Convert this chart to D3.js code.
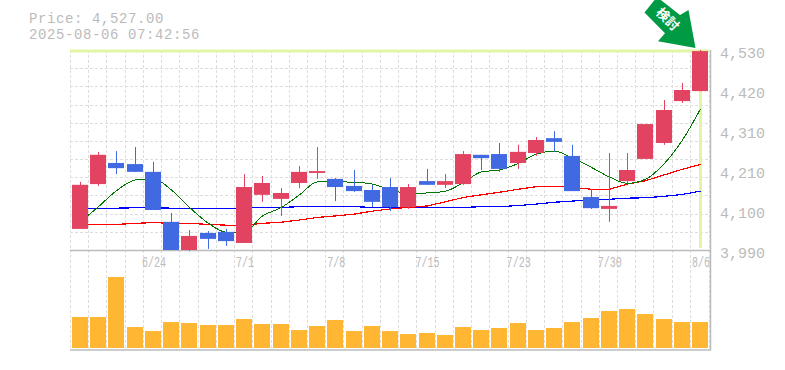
<!DOCTYPE html>
<html>
<head>
<meta charset="utf-8">
<script src="https://cdn.jsdelivr.net/npm/d3@7"></script>
<style>
  html, body { margin: 0; padding: 0; background: #fff; overflow: hidden; }
  svg { display: block; }
  text { font-family: "Liberation Mono", monospace; fill: #bbb; }
</style>
</head>
<body>
<svg width="785" height="370"></svg>
<script>
// Chart data.
var dates = ["6/18","6/19","6/20","6/23","6/24","6/25","6/26","6/27","6/30","7/1",
             "7/2","7/3","7/4","7/7","7/8","7/9","7/10","7/11","7/14","7/15",
             "7/16","7/17","7/18","7/22","7/23","7/24","7/25","7/28","7/29","7/30",
             "7/31","8/1","8/4","8/5","8/6"];
var opens = [4047,4168,4225,4222,4201,4066,3990,4036,4039,4009,
             4139,4128,4171,4198,4182,4163,4152,4160,4106,4176,
             4166,4168,4247,4249,4225,4252,4292,4244,4133,4101,
             4176,4236,4279,4392,4419];
var highs = [4174,4255,4257,4268,4228,4090,4044,4041,4047,4195,
             4190,4157,4217,4268,4184,4206,4166,4184,4168,4209,
             4195,4257,4247,4279,4274,4295,4311,4274,4155,4252,
             4252,4330,4395,4441,4530];
var lows = [4047,4163,4195,4201,4098,3990,3987,3993,4001,4009,
            4120,4082,4157,4182,4122,4147,4106,4095,4101,4166,
            4157,4166,4206,4201,4209,4244,4255,4149,4101,4066,
            4171,4236,4274,4387,4419];
var closes = [4166,4247,4211,4201,4098,3990,4028,4020,4014,4160,
              4171,4144,4201,4203,4160,4149,4120,4106,4160,4166,
              4176,4249,4238,4209,4255,4287,4282,4149,4103,4109,
              4206,4330,4368,4422,4527];
var maShort = [4066,4107,4150,4179,4182,4152,4105,4062,4038,4039,
               4082,4105,4139,4174,4174,4173,4168,4152,4143,4144,
               4149,4172,4201,4206,4224,4249,4257,4238,4213,4187,
               4170,4181,4224,4287,4371];
var maMid = [4059,4059,4059,4062,4064,4062,4062,4059,4057,4057,
             4062,4065,4071,4078,4082,4087,4095,4101,4105,4109,
             4120,4132,4139,4146,4154,4161,4162,4159,4154,4154,
             4168,4177,4193,4208,4221];
var maLong = [4103,4103,4103,4104,4104,4103,4103,4103,4103,4103,
              4105,4105,4107,4107,4107,4107,4105,4105,4105,4105,
              4105,4105,4107,4107,4110,4114,4119,4122,4126,4127,
              4130,4131,4135,4140,4149];
var volumes = [31,31,71,21,17,26,25,23,23,29,
               24,24,18,22,28,17,22,17,14,15,
               13,21,18,20,25,18,20,26,30,37,
               39,34,29,26,26];
var priceTicks = [4530,4420,4310,4210,4100,3990];
var dateTicks = ["6/24","7/1","7/8","7/15","7/23","7/30","8/6"];
var lastPrice = "4,527.00";
var stamp = "2025-08-06 07:42:56";

var margin = { left: 70.9, right: 709.2, top: 50, bottom: 250, volTop: 250, volBottom: 348 }
  , upColor = "#e24360"
  , downColor = "#4169e1"
  , gridColor = "#ddd"
  , axisColor = "#bbb"
  , hiColor = "#e2f5a5"
;

var svg = d3.select("svg");

// Scales.
var xScale = d3.scaleBand().domain(dates).range([margin.left, margin.right]).padding(0)
  , yScale = d3.scaleLinear().domain([3990, 4530]).range([margin.bottom, margin.top])
  , volScale = d3.scaleLinear().domain([0, 98]).range([margin.volBottom, margin.volTop])
  , cx = function (d){ return Math.round(xScale(d) + xScale.bandwidth() / 2) + 0.5; }
;

// Grid.
var gridG = svg.append("g")
  .attr("stroke", gridColor)
  .attr("stroke-dasharray", "3,2");
gridG.selectAll("line.v")
  .data(dates)
  .enter().append("line")
    .attr("class", "v")
    .attr("x1", function (d){ return Math.round(xScale(d)) - 0.5; })
    .attr("x2", function (d){ return Math.round(xScale(d)) - 0.5; })
    .attr("y1", 50)
    .attr("y2", 350);
gridG.append("line")
  .attr("x1", 709.5).attr("x2", 709.5).attr("y1", 50).attr("y2", 350);
gridG.selectAll("line.h")
  .data(d3.range(1, 11))
  .enter().append("line")
    .attr("class", "h")
    .attr("x1", 70)
    .attr("x2", 710)
    .attr("y1", function (d){ return Math.round(50 + d * 200 / 11) + 0.5; })
    .attr("y2", function (d){ return Math.round(50 + d * 200 / 11) + 0.5; });

// Frame lines.
svg.append("line").attr("x1", 70).attr("x2", 711).attr("y1", 250.5).attr("y2", 250.5)
  .attr("stroke", axisColor).attr("stroke-width", 1.5);
svg.append("line").attr("x1", 70).attr("x2", 711).attr("y1", 350).attr("y2", 350)
  .attr("stroke", axisColor).attr("stroke-width", 1.5);
svg.append("line").attr("x1", 710.5).attr("x2", 710.5).attr("y1", 50).attr("y2", 350)
  .attr("stroke", axisColor).attr("stroke-width", 1.5);

// Latest price highlight.
var lastDate = dates[dates.length - 1];
svg.append("line")
  .attr("x1", 70).attr("x2", 710)
  .attr("y1", yScale(4527)).attr("y2", yScale(4527))
  .attr("stroke", hiColor).attr("stroke-width", 3);
svg.append("line")
  .attr("x1", cx(lastDate)).attr("x2", cx(lastDate))
  .attr("y1", 50).attr("y2", 248)
  .attr("stroke", hiColor).attr("stroke-width", 3);

// Moving averages.
var line = d3.line()
  .x(function (d, i){ return cx(dates[i]); })
  .y(function (d){ return yScale(d); });
[[maLong, "#0000ff", 1.2], [maMid, "#ff0000", 1.2], [maShort, "#007700", 1]].forEach(function (s){
  svg.append("path")
    .attr("d", line.curve(s[0] === maShort ? d3.curveMonotoneX : d3.curveLinear)(s[0]))
    .attr("fill", "none")
    .attr("stroke", s[1])
    .attr("stroke-width", s[2])
    .attr("shape-rendering", "crispEdges");
});

// Candles.
function candleColor(i){ return closes[i] >= opens[i] ? upColor : downColor; }
var candles = svg.append("g").selectAll("g")
  .data(dates)
  .enter().append("g");
candles.append("line")
  .attr("x1", function (d){ return cx(d); })
  .attr("x2", function (d){ return cx(d); })
  .attr("y1", function (d, i){ return yScale(highs[i]); })
  .attr("y2", function (d, i){ return yScale(lows[i]); })
  .attr("stroke", function (d, i){ return candleColor(i); });
candles.append("rect")
  .attr("x", function (d){ return cx(d) - 8.5; })
  .attr("width", 16)
  .attr("y", function (d, i){ return yScale(Math.max(opens[i], closes[i])); })
  .attr("height", function (d, i){ return Math.abs(yScale(opens[i]) - yScale(closes[i])); })
  .attr("fill", function (d, i){ return candleColor(i); });

// Volume.
svg.append("g").selectAll("rect")
  .data(volumes)
  .enter().append("rect")
    .attr("x", function (d, i){ return cx(dates[i]) - 8.5; })
    .attr("width", 16)
    .attr("y", function (d){ return volScale(d); })
    .attr("height", function (d){ return volScale(0) - volScale(d); })
    .attr("fill", "#ffb733");

// Price axis, labels are placed 40px apart like the reference.
var priceAxis = d3.axisRight(d3.scalePoint().domain(priceTicks).range([53, 253]))
  .tickSize(0).tickPadding(0)
  .tickFormat(d3.format(","));
svg.append("g")
  .attr("transform", "translate(720,0)")
  .call(priceAxis)
  .call(function (g){ g.select(".domain").remove(); })
  .selectAll("text")
    .style("font-family", '"Liberation Mono", monospace')
    .style("font-size", "15px");

// Date axis, the reference glyphs are tall and narrow so squeeze them.
var dateAxis = d3.axisBottom(d3.scalePoint().domain(dates).range([cx(dates[0]), cx(lastDate)]))
  .tickValues(dateTicks)
  .tickSize(0).tickPadding(0);
svg.append("g")
  .attr("transform", "translate(0,256)")
  .call(dateAxis)
  .call(function (g){ g.select(".domain").remove(); })
  .selectAll("text")
    .attr("transform", "scale(0.67,1)")
    .style("font-family", '"Liberation Mono", monospace')
    .style("font-size", "15px");

// Title lines.
svg.append("text").attr("x", 29).attr("y", 23).style("font-size", "14px").style("letter-spacing", "0.6px")
  .text("Price: " + lastPrice);
svg.append("text").attr("x", 29).attr("y", 38.5).style("font-size", "14px").style("letter-spacing", "0.6px")
  .text(stamp);

// Signal arrow, tip sits on the last candle.
var arrowG = svg.append("g");
arrowG.append("path")
  .attr("d", "M644.5,12.5 L657,-3 L680,15 L688.5,10 L695.5,48 L658,41.3 L665,33.3 Z")
  .attr("fill", "#009944");
arrowG.append("text")
  .attr("transform", "translate(667,20) rotate(45)")
  .attr("text-anchor", "middle")
  .attr("dominant-baseline", "middle")
  .style("font-family", '"Noto Sans CJK JP", sans-serif')
  .style("font-size", "13px")
  .style("font-weight", "700")
  .style("fill", "#fff")
  .text("検討");
</script>
</body>
</html>
